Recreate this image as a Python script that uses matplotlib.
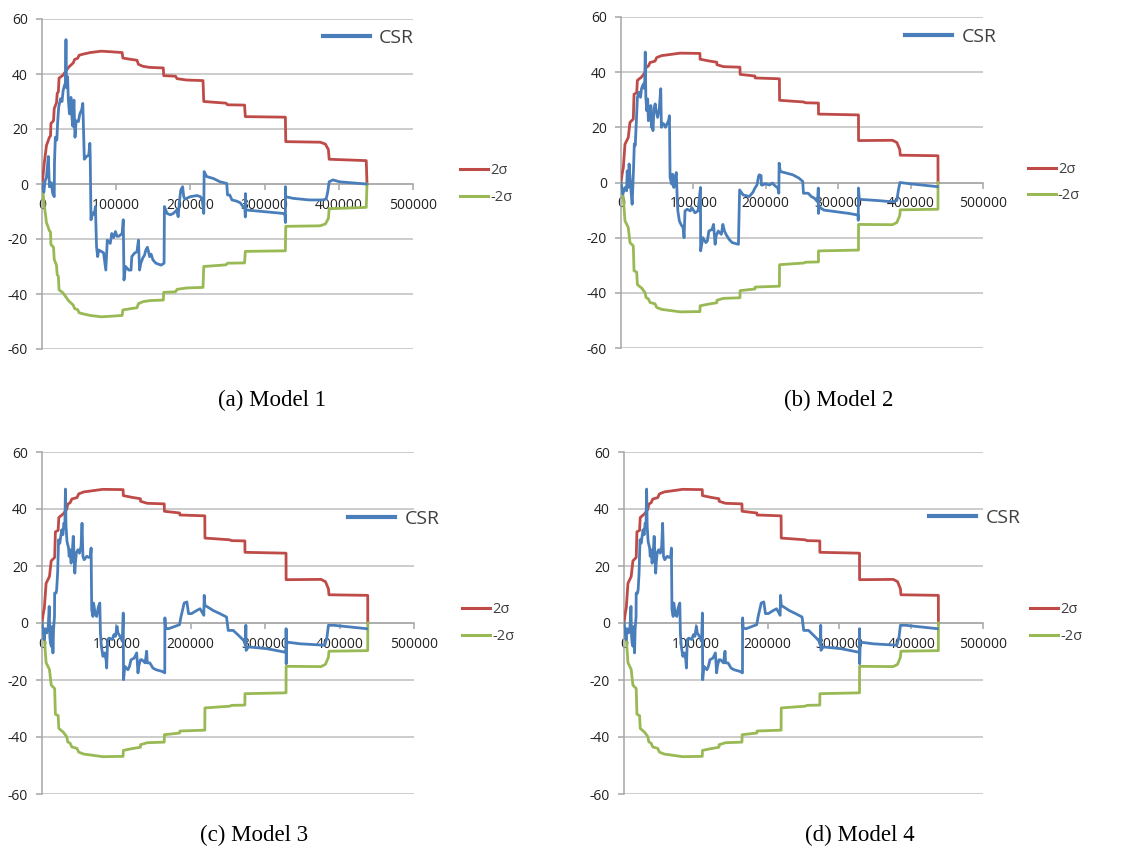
import matplotlib
matplotlib.use("Agg")
import matplotlib.pyplot as plt
from matplotlib.lines import Line2D

# ---------------- data ----------------
# Model 1 control limits
sig_m1_x = [0, 1000, 3000, 6000, 10000, 11500, 12000, 15500, 16500, 19500, 20500, 22000, 23000,
            28000, 32000, 36000, 42000, 44000, 48000, 50000, 55000, 65000, 80000, 92000, 108000,
            109000, 118000, 128000, 130000, 136000, 145000, 163500, 164000, 180000, 182000, 195000,
            217000, 218000, 248000, 250000, 273000, 274000, 328000, 328500, 375000, 382000, 386000,
            387000, 437000, 438000]
sig_m1_up = [0, 2, 7.5, 14, 17, 17.5, 22, 23, 27.5, 29.5, 33, 33.5, 38.5,
             39.5, 41, 42.5, 44, 45.3, 45.7, 46.8, 47.2, 47.8, 48.3, 48.1, 47.8,
             45.8, 45.4, 45, 43.5, 42.8, 42.4, 42.2, 39.4, 39.2, 38.3, 37.8,
             37.6, 30, 29.4, 28.8, 28.7, 24.5, 24.3, 15.4, 15.2, 14.5, 12.5,
             9, 8.5, 0]
sig_m1_lo = [0, -2, -7.5, -14, -17, -17.5, -22, -23, -27.5, -29.5, -33, -33.5, -38.5,
             -39.5, -41, -42.5, -44, -45.3, -45.7, -46.8, -47.2, -47.8, -48.3, -48.1, -47.8,
             -45.8, -45.4, -45, -43.5, -42.8, -42.4, -42.2, -39.4, -39.2, -38.3, -37.8,
             -37.6, -30, -29.4, -28.8, -28.7, -24.5, -24.3, -15.4, -15.2, -14.5, -12.5,
             -9, -8.5, 0]

# Models 2-4 control limits
sig_m2_x = [0, 1500, 3200, 5500, 10000, 12400, 17000, 18000, 21700, 22600, 28600, 33200, 34600,
            37800, 40100, 47000, 49300, 56200, 67700, 81600, 109000, 109300, 120700, 132300,
            132500, 141500, 164300, 164500, 185000, 185300, 218800, 219000, 252000, 255000,
            272700, 272800, 328000, 328100, 375000, 381000, 385000, 385700, 437800, 437900]
sig_m2_up = [0, 3, 5.4, 13.9, 16.3, 21.8, 23, 32, 32.5, 37, 38.3, 39.9, 41.7,
             42.2, 43.5, 44, 45.3, 46, 46.4, 46.9, 46.8, 44.7, 44.1, 43.6,
             42.7, 42, 41.8, 39.2, 38.6, 37.9, 37.6, 29.8, 29.2, 28.9,
             28.8, 24.8, 24.5, 15.2, 15.3, 14.5, 12, 9.9, 9.7, 0]
sig_m2_lo = [0, -3, -5.4, -13.9, -16.3, -21.8, -23, -32, -32.5, -37, -38.3, -39.9, -41.7,
             -42.2, -43.5, -44, -45.3, -46, -46.4, -46.9, -46.8, -44.7, -44.1, -43.6,
             -42.7, -42, -41.8, -39.2, -38.6, -37.9, -37.6, -29.8, -29.2, -28.9,
             -28.8, -24.8, -24.5, -15.2, -15.3, -14.5, -12, -9.9, -9.7, 0]

# CSR Model 1
csr_m1_x = [0, 2500, 4000, 6000, 8500, 10000, 12500, 14500, 16500, 16800, 18000, 20000, 21000,
            22500, 25000, 27000, 28500, 30500, 31500, 32300, 33000, 34500, 35500, 37000, 39000,
            40000, 41500, 43000, 44500, 46000, 49000, 51000, 53500, 55000, 56000, 57000, 60000,
            63000, 64500, 65000, 66000, 68500, 70500, 72000, 73500, 75000, 76500, 83000, 86000,
            88000, 92000, 94000, 96500, 99000, 101000, 103500, 108000, 109500, 110500, 112500,
            117000, 120000, 121000, 124500, 128000, 130000, 131500, 133000, 136000, 138000,
            140000, 142000, 143500, 145000, 147000, 149500, 153500, 160500, 164500, 165000,
            168500, 173000, 177000, 181500, 183500, 185000, 187000, 189500, 191000, 192500,
            200000, 209000, 213500, 216000, 218000, 218500, 222000, 231000, 240000, 249000,
            250000, 253000, 256000, 262000, 267000, 271000, 273500, 274000, 274200, 274500,
            277000, 297000, 325000, 327500, 328000, 328100, 328300, 338000, 360000, 379000,
            383000, 385000, 387000, 392000, 401000, 437000]
csr_m1_y = [0, -3, 1, 2.5, 10, -1, 0.5, -3.5, -4.6, 7.5, 17, 16, 22,
            28, 31, 30, 34, 36, 36.6, 52.5, 35, 39, 30.5, 25.5, 31.5,
            25.5, 21, 30.5, 17, 23, 22.7, 25.5, 27, 29.3, 19.5, 9, 10,
            10.5, 14.8, 10, -13, -10.5, -11, -8.2, -22.8, -26.4, -24, -25, -31.3,
            -20.4, -21.6, -18, -19.5, -17.3, -19, -19, -18, -13, -34.9, -30,
            -31.3, -31.3, -26.4, -25.2, -24.6, -20.4, -31.3, -29, -26.8, -26,
            -24, -23, -24.5, -26.4, -25.5, -27.6, -28.8, -29.5, -28.8, -8.2,
            -10.7, -11.2, -10.7, -9.5, -11.9, -7, -2.2, -1, -4.6, -5.5,
            -4.6, -4.2, -4.6, -5.8, -10.7, 4.5, 2.7, 2, 0.8, 0.2,
            -4, -4, -5.8, -6.2, -6.8, -8.2, -9, -12, -3.5, -9.4,
            -9.5, -10, -10.7, -11.2, -14, -1, -4.6, -5.2, -5.8, -5.8,
            -5.4, -3, 0.8, 1.5, 0.8, 0]

# CSR Model 2
csr_m2_x = [0, 2500, 5500, 7700, 8600, 10000, 11200, 12900, 14200, 15400, 16300, 17200, 18400,
            19700, 20600, 21500, 22700, 24900, 27000, 28300, 30000, 31300, 32600, 33500, 34300,
            35600, 36900, 37800, 39900, 41200, 42000, 42900, 44200, 45500, 47200, 48500, 50600,
            52800, 54900, 55800, 57100, 59200, 61400, 65600, 66900, 67800, 70000, 71200, 73000,
            74200, 76400, 77600, 78500, 80600, 82800, 85800, 87100, 88400, 91400, 95700, 97800,
            102100, 106400, 109800, 110000, 113000, 117200, 119300, 121400, 125700, 127800,
            130000, 131300, 134300, 138600, 140700, 142900, 145000, 149300, 153600, 162200,
            163800, 168700, 177200, 182300, 185000, 187800, 190000, 191000, 193500, 193800,
            196000, 198900, 205000, 209300, 211500, 216600, 218000, 218400, 220000, 228600,
            237200, 245700, 251000, 252000, 258600, 262900, 267200, 271500, 272500, 272800,
            273800, 280200, 297400, 314500, 327400, 327700, 328000, 329200, 340000, 357400,
            374500, 381000, 383200, 385300, 391700, 400300, 437000]
csr_m2_y = [0, -4.2, -1.8, -3, 4.2, -1.8, 6.7, 0, -4.2, -7.9, -1.8, 4.2, 14,
            13.5, 18.8, 24.8, 30.9, 32.7, 30.9, 34, 35.2, 35.8, 34, 47.3, 30.9,
            26, 30.3, 22.4, 23.6, 27.9, 20, 21.5, 18.8, 26.7, 28.5, 26, 23.6,
            26.5, 34, 20, 21.5, 21.2, 20, 22.4, 24.2, 1.8, -0.6, 3, -1.8,
            1.5, 3.6, -5.5, -10.3, -13.9, -15.2, -16.4, -20, -10.3, -9.7, -10.3, -9.1,
            -11, -10.3, -1.8, -24.8, -20, -21.8, -21.2, -17.6, -17, -15.2,
            -22.4, -19.4, -17.6, -18.8, -15.2, -17.6, -18.8, -20.6, -21.8, -22.4,
            -2.7, -4.5, -5.1, -3.5, -2, -0.9, 2.2, 2.8, 2.5, -0.9,
            -0.9, -0.4, -0.9, -0.2, -0.9, -2, -3.9, 7, 4, 3.4,
            2.8, 1.6, 0.4, -3.9, -3.9, -5.1, -5.7, -7, -2, -11.2,
            -8.8, -10, -10.6, -11.2, -11.8, -13.7, -2, -6.1, -6.3, -6.6,
            -7, -6.5, -2.7, 0, -0.2, -0.5, -1.5]

# CSR Model 3
csr_m3_x = [0, 2900, 4200, 6300, 8400, 9700, 10500, 11300, 12600, 13900, 14700, 15500, 16800,
            17000, 18900, 19700, 21000, 22300, 23900, 25200, 26500, 28100, 29400, 30700, 31500,
            32300, 33600, 35700, 36500, 37800, 39100, 40700, 42000, 43300, 44100, 45000, 46200,
            48300, 50400, 52500, 53800, 55000, 56700, 60100, 63000, 65100, 66000, 66800, 68500,
            69300, 71400, 73500, 75600, 77700, 78500, 79800, 81900, 84000, 86100, 86900, 88200,
            90300, 94500, 96600, 98700, 100800, 102100, 105000, 108000, 109200, 109600, 111300,
            115500, 117600, 119700, 123900, 127300, 129000, 130200, 132300, 134400, 138600,
            140700, 141500, 144900, 149100, 153300, 161700, 165000, 165200, 166000, 170000,
            178500, 184800, 186900, 189000, 191100, 194700, 197000, 201000, 208000, 212500,
            217500, 218000, 219000, 230000, 239000, 248000, 250300, 257000, 264000, 271000,
            273500, 274000, 274300, 277500, 302000, 326000, 328000, 328100, 328200, 329000,
            347000, 380000, 383000, 385000, 392000, 436400]
csr_m3_y = [0, -5.8, -2, -3.5, -1.2, 5.8, -4.7, -7, -8.2, -1.2, -10.5, -2.3, 2.3,
            10.5, 10.5, 11.7, 17.5, 29.2, 28, 30.4, 32.7, 31, 35, 34, 47,
            34, 28.6, 26.3, 23.4, 25.7, 21, 24.6, 30.4, 22.2, 17.5, 21.5, 24.6,
            25.7, 24.5, 26.9, 35, 23.4, 22.2, 23.4, 23, 23.4, 26.3, 4.7, 2.3,
            7, 3.5, 2.3, 5.5, 7, -3.5, -8.2, -11.7, -10.5, -12.9, -15.8, -5.8,
            -5.3, -5.8, -4.1, -4.7, -1.2, -3.5, -4.7, -6.4, 3.5, -19.9, -15.2,
            -16.4, -15.2, -12.9, -12.3, -10.5, -17.5, -15, -12.9, -12.9, -14,
            -9.9, -14, -14, -15.8, -16.4, -17, -17.5, 1.8, -1.8, -2,
            -1.2, -0.6, 2.3, 4.7, 7, 7.4, 3.3, 3.3, 4.4, 5,
            2.7, 9.7, 6.2, 4.4, 3.3, 2.1, -2.6, -2.6, -4.3, -6.1,
            -7.8, -0.8, -9.6, -8.4, -9, -10.2, -10.2, -2, -14.3, -6.7,
            -7.3, -7.8, -5, -0.8, -0.8, -2]

# CSR Model 4 (same trajectory as Model 3 in the figure)
csr_m4_x = list(csr_m3_x)
csr_m4_y = list(csr_m3_y)

titles = ["(a) Model 1", "(b) Model 2", "(c) Model 3", "(d) Model 4"]
y_ticks = [-60, -40, -20, 0, 20, 40, 60]
x_ticks = [0, 100000, 200000, 300000, 400000, 500000]

# ---------------- layout ----------------
W, H = 1121, 849
BLUE, RED, GREEN = "#4A7EBB", "#BE4B48", "#98B954"
GRID = "#BFBFBF"

# (left, right, top, bottom) pixel boxes of plot areas
boxes = [(42, 413, 19, 349), (621, 983, 17, 348), (42, 414, 452, 794), (624, 983, 452, 794)]
csr_leg = [(0.757, 0.942), (0.785, 0.94), (0.823, 0.804), (0.85, 0.807)]
sig_leg_x = [1.127, 1.124, 1.129, 1.131]
title_pos = [(272, 400), (839, 400), (254, 835), (860, 835)]

panels = [
    (csr_m1_x, csr_m1_y, sig_m1_x, sig_m1_up, sig_m1_lo),
    (csr_m2_x, csr_m2_y, sig_m2_x, sig_m2_up, sig_m2_lo),
    (csr_m3_x, csr_m3_y, sig_m2_x, sig_m2_up, sig_m2_lo),
    (csr_m4_x, csr_m4_y, sig_m2_x, sig_m2_up, sig_m2_lo),
]

plt.rcParams["font.family"] = ["Open Sans", "DejaVu Sans"]
fig = plt.figure(figsize=(W / 100, H / 100), dpi=100)

for i, (cx, cy, sx, su, sl) in enumerate(panels):
    l, r, t, b = boxes[i]
    ax = fig.add_axes([l / W, 1 - b / H, (r - l) / W, (b - t) / H])
    ax.set_xlim(0, 500000)
    ax.set_ylim(-60, 60)
    ax.set_yticks(y_ticks)
    ax.set_xticks(x_ticks)
    ax.set_xticklabels([str(v) for v in x_ticks])
    ax.set_yticklabels([str(v) for v in y_ticks])
    ax.grid(axis="y", color=GRID, lw=1.1)
    ax.set_axisbelow(True)
    for s in ("top", "right"):
        ax.spines[s].set_visible(False)
    ax.spines["left"].set_color("#A6A6A6")
    ax.spines["bottom"].set_position(("data", 0))
    ax.spines["bottom"].set_color("#A6A6A6")
    ax.spines["left"].set_linewidth(1.1)
    ax.spines["bottom"].set_linewidth(1.1)
    ax.tick_params(axis="both", colors="#A6A6A6", labelcolor="#222222", labelsize=10,
                   length=4, width=1.1)
    ax.tick_params(axis="x", pad=6)
    ax.tick_params(axis="y", pad=6)

    ax.plot(sx, su, color=RED, lw=2.0, solid_joinstyle="round", zorder=3)
    ax.plot(sx, sl, color=GREEN, lw=2.0, solid_joinstyle="round", zorder=3)
    ax.plot(cx, cy, color=BLUE, lw=2.0, solid_joinstyle="round", zorder=4)

    h_csr = Line2D([], [], color=BLUE, lw=3)
    leg1 = ax.legend([h_csr], ["CSR"], loc="center left", bbox_to_anchor=csr_leg[i],
                     frameon=False, fontsize=14, handlelength=2.4, handletextpad=0.5,
                     borderpad=0, borderaxespad=0)
    for txt in leg1.get_texts():
        txt.set_color("#404040")
    ax.add_artist(leg1)
    h_up = Line2D([], [], color=RED, lw=2.2)
    h_lo = Line2D([], [], color=GREEN, lw=2.2)
    leg2 = ax.legend([h_up, h_lo], ["2σ", "-2σ"], loc="center left",
                     bbox_to_anchor=(sig_leg_x[i], 0.5), frameon=False, fontsize=10.5,
                     handlelength=1.9, handletextpad=0.15, labelspacing=0.8,
                     borderpad=0, borderaxespad=0)
    for txt in leg2.get_texts():
        txt.set_color("#404040")

    tx, ty = title_pos[i]
    fig.text(tx / W, 1 - ty / H, titles[i], ha="center", va="center",
             family="Liberation Serif", fontsize=16.5, color="black")

fig.savefig("out.png", dpi=100)
